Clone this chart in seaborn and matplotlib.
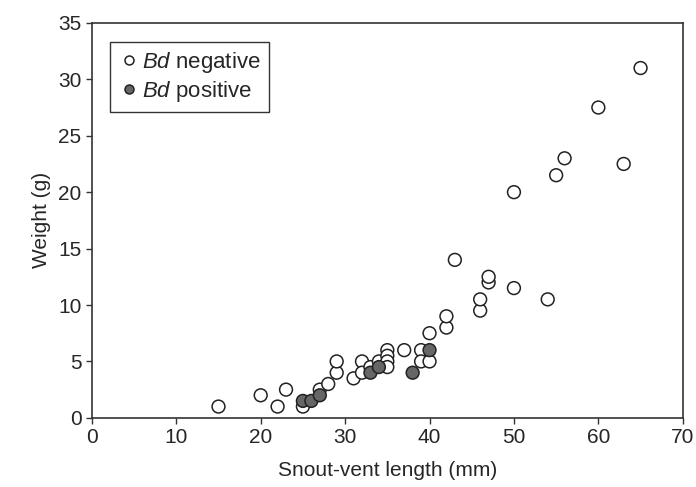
import matplotlib
matplotlib.use("Agg")
import matplotlib.pyplot as plt
import pandas as pd
import seaborn as sns

# Bd negative frogs (open circles)
neg_svl = [15, 20, 22, 23, 25, 27, 28, 29, 29, 31, 32, 32, 33, 34, 35, 35, 35, 35,
           37, 39, 39, 40, 40, 42, 42, 43, 46, 46, 47, 47, 50, 50, 54, 55, 56, 60, 63, 65]
neg_wt = [1, 2, 1, 2.5, 1, 2.5, 3, 4, 5, 3.5, 5, 4, 4.5, 5, 6, 5.5, 5, 4.5,
          6, 6, 5, 5, 7.5, 8, 9, 14, 9.5, 10.5, 12, 12.5, 11.5, 20, 10.5, 21.5, 23, 27.5, 22.5, 31]

# Bd positive frogs (filled circles)
pos_svl = [25, 26, 27, 33, 34, 38, 40]
pos_wt = [1.5, 1.5, 2, 4, 4.5, 4, 6]

df = pd.DataFrame({
    "svl": neg_svl + pos_svl,
    "weight": neg_wt + pos_wt,
    "status": ["neg"] * len(neg_svl) + ["pos"] * len(pos_svl),
})

sns.set_style("ticks")
plt.rcParams["font.family"] = ["Liberation Sans", "DejaVu Sans"]
plt.rcParams["mathtext.fontset"] = "custom"
plt.rcParams["mathtext.rm"] = "Liberation Sans"
plt.rcParams["mathtext.it"] = "Liberation Sans:italic"

fig = plt.figure(figsize=(6.96, 4.87), dpi=100)
ax = fig.add_axes([0.132, 0.142, 0.849, 0.811])

sns.scatterplot(data=df, x="svl", y="weight", hue="status",
                palette={"neg": "white", "pos": "#666666"},
                edgecolor="#222222", linewidth=1.1, s=85, ax=ax, zorder=3)

ax.set_xlim(0, 70)
ax.set_ylim(0, 35)
ax.set_xticks(range(0, 71, 10))
ax.set_yticks(range(0, 36, 5))
ax.set_xlabel("Snout-vent length (mm)", fontsize=15, labelpad=10)
ax.set_ylabel("Weight (g)", fontsize=15, labelpad=5)
ax.tick_params(labelsize=15, length=4, width=1, color="#333333", direction="out")
for sp in ax.spines.values():
    sp.set_visible(True)
    sp.set_color("#333333")
    sp.set_linewidth(1.2)

handles, _ = ax.get_legend_handles_labels()
leg = ax.legend(handles, [r"$\it{Bd}$ negative", r"$\it{Bd}$ positive"],
                loc="upper left", bbox_to_anchor=(0.012, 0.98), fontsize=16,
                markerscale=0.7, handletextpad=0.1, handlelength=1.0,
                borderpad=0.35, labelspacing=0.2, fancybox=False,
                edgecolor="#333333", framealpha=1)
leg.get_frame().set_linewidth(1.0)

fig.savefig("out.png", dpi=100)
